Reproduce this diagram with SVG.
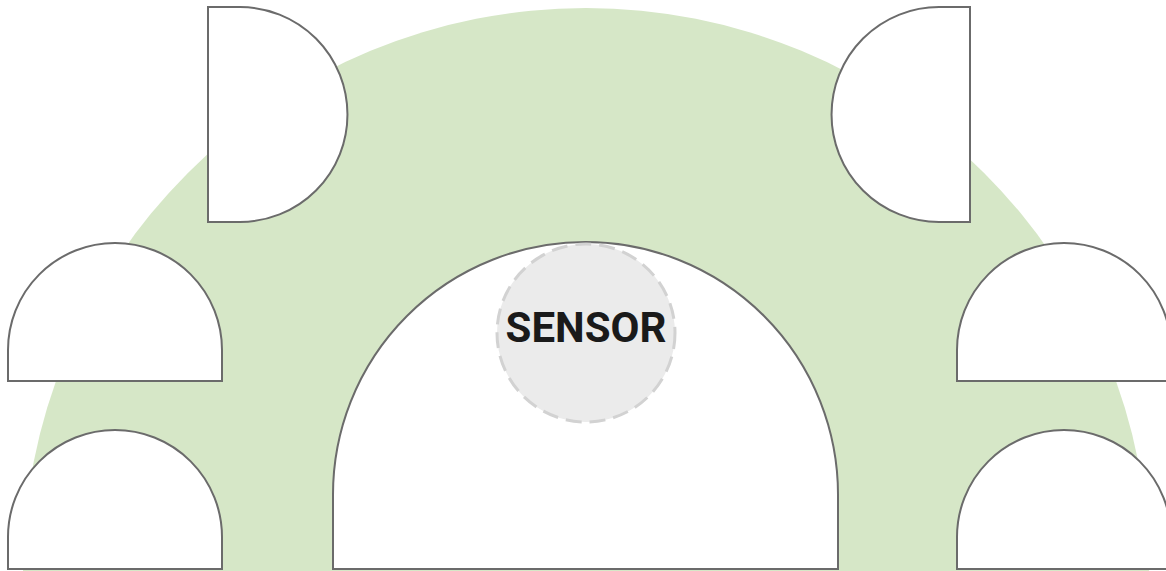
<svg xmlns="http://www.w3.org/2000/svg" width="1166" height="571" viewBox="0 0 1166 571">
<style>
.shape{fill:#ffffff;stroke:#6b6b6b;stroke-width:2}
.sensor{fill:#ebebeb;stroke:#d2d2d2;stroke-width:3;stroke-dasharray:16 8}
.label{font-family:Roboto,"Liberation Sans",sans-serif;font-weight:bold;font-size:42px;fill:#1a1a1a}
</style>
<rect x="0" y="0" width="1166" height="571" fill="#ffffff"/>
<g id="zone">
<path d="M23,571 A563,563 0 0 1 1149,571 Z" fill="#d6e7c7"/>
</g>
<g id="seat-top-left"><path class="shape" d="M208,7 H240 A107.5,107.5 0 0 1 240,222 H208 Z"/></g>
<g id="seat-top-right"><path class="shape" d="M970,7 H939 A107.5,107.5 0 0 0 939,222 H970 Z"/></g>
<g id="seat-left-1"><path class="shape" d="M8,381 V350 A107,107 0 0 1 222,350 V381 Z"/></g>
<g id="seat-left-2"><path class="shape" d="M8,569 V537 A107,107 0 0 1 222,537 V569 Z"/></g>
<g id="seat-right-1"><path class="shape" d="M957,381 V350 A107,107 0 0 1 1171,350 V381 Z"/></g>
<g id="seat-right-2"><path class="shape" d="M957,569 V537 A107,107 0 0 1 1171,537 V569 Z"/></g>
<g id="table"><path class="shape" d="M333,569 V494.5 A252.5,252.5 0 0 1 838,494.5 V569 Z"/></g>
<g id="sensor">
<circle class="sensor" cx="586" cy="333" r="89"/>
<text class="label" x="586" y="342" text-anchor="middle">SENSOR</text>
</g>
<g id="connectors"/>
</svg>
